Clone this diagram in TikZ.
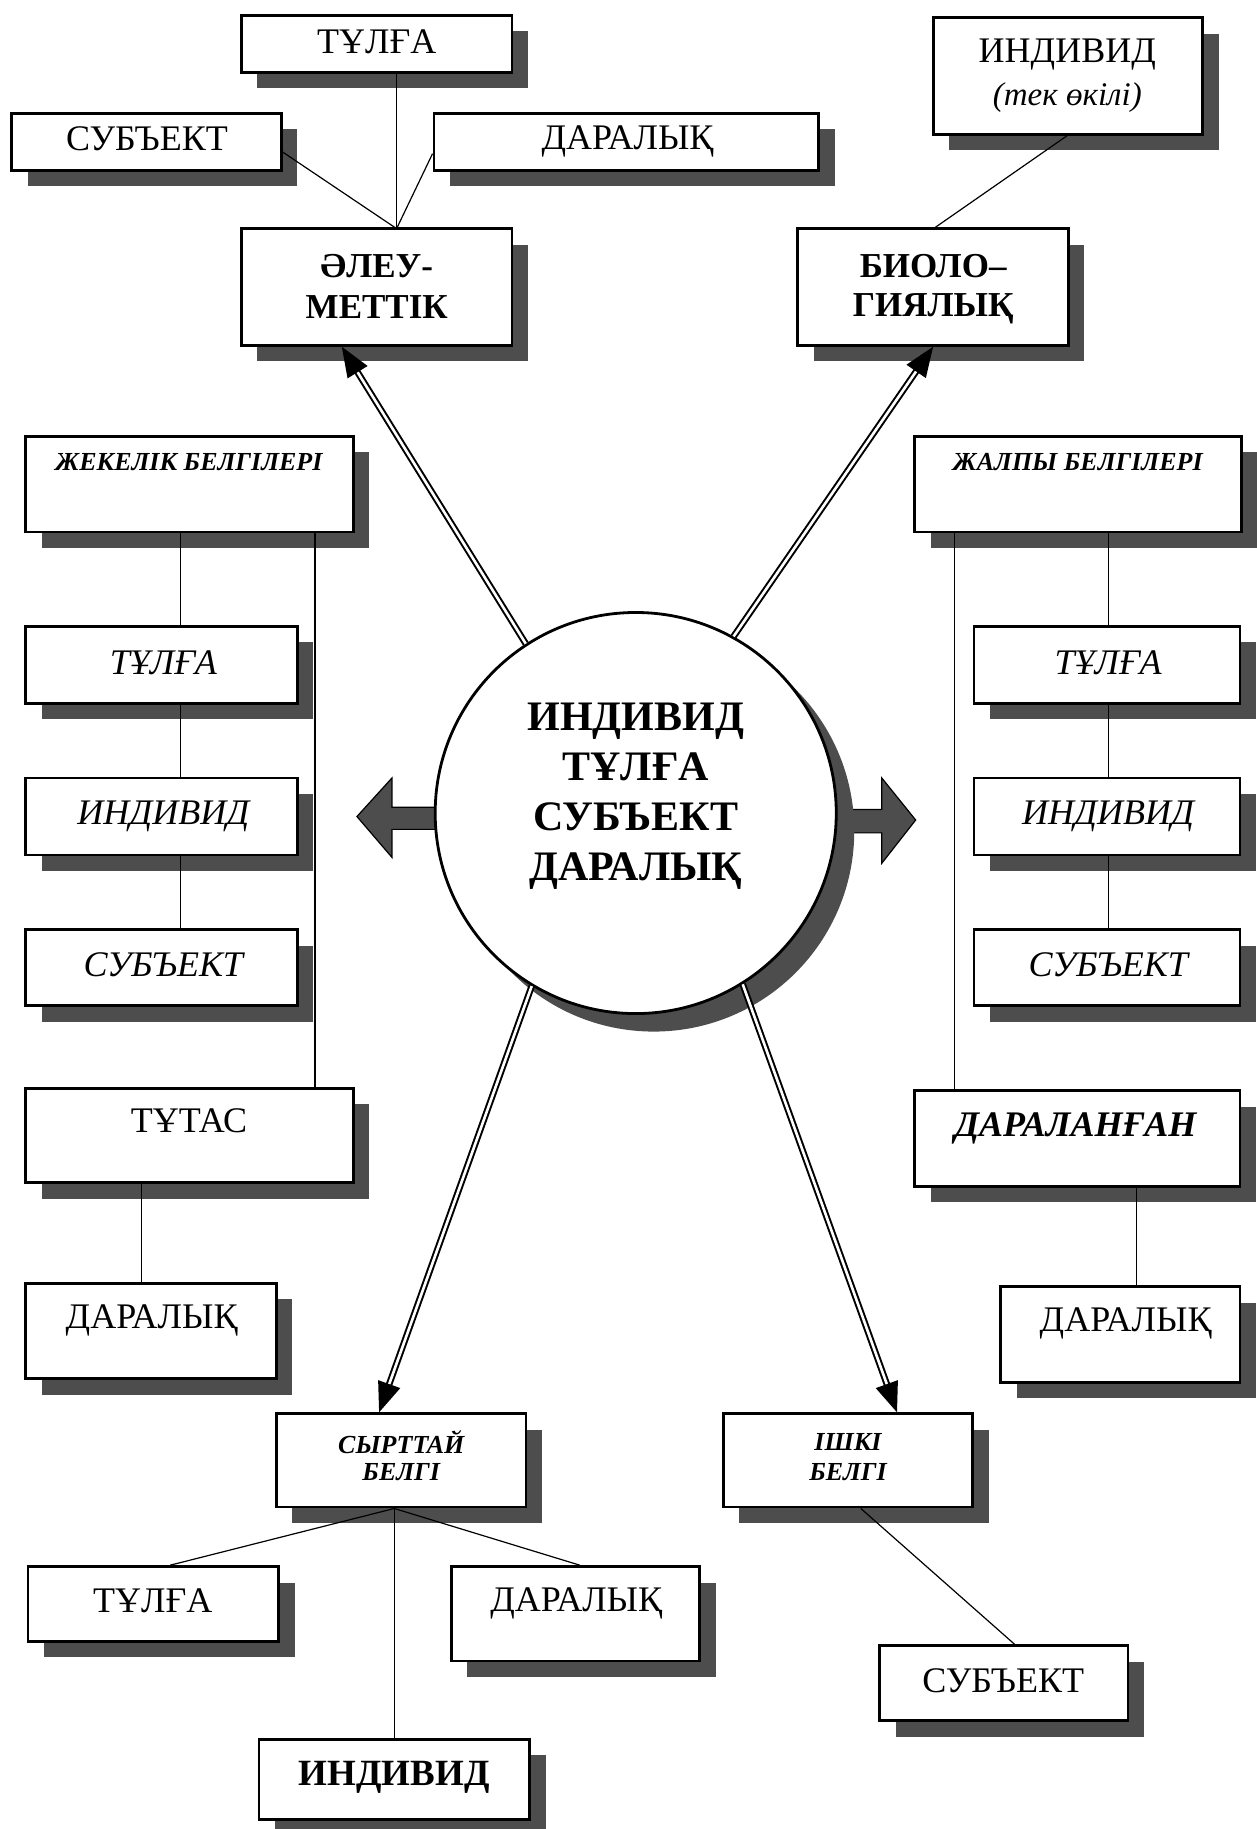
\documentclass[tikz,border=0pt]{standalone}
\usepackage{fontspec}
\setmainfont{Liberation Serif}
\usetikzlibrary{shadows,fit,calc,arrows.meta}
\definecolor{sh}{RGB}{77,77,77}
\begin{document}
\begin{tikzpicture}[x=1.1662pt,y=-1.1662pt,
  box/.style={draw, line width=2.8pt, fill=white, inner sep=0pt,
    drop shadow={shadow xshift=16pt, shadow yshift=-16pt, fill=sh, opacity=1}},
  reg/.style={font=\fontsize{36}{42}\selectfont},
  itx/.style={font=\fontsize{36}{42}\selectfont\itshape},
  bfx/.style={font=\fontsize{35}{41}\selectfont\bfseries},
  bix/.style={font=\fontsize{36}{42}\selectfont\bfseries\itshape},
  sbi/.style={font=\fontsize{26}{30}\selectfont\bfseries\itshape},
  con/.style={line width=1.2pt},
  dbl/.style={line width=2pt, double=white, double distance=2.6pt,
    -{Triangle[length=30pt,width=23pt]}},
  blk/.style={fill=sh, draw=black, line width=1.2pt, line join=miter}]
\useasboundingbox (0,0) rectangle (1077,1568);

% ---- top
\node[box, fit={(207,13) (439,62)}] (ttul) {};
\node[reg] (ttult) at (323,36) {ТҰЛҒА};
\node[box, fit={(10,97) (241,146)}] (tsub) {};
\node[reg] (tsubt) at (126,119) {СУБЪЕКТ};
\node[box, fit={(372,97) (702,146)}] (tdar) {};
\node[reg] (tdart) at (538,121) {ДАРАЛЫҚ};
\node[box, fit={(207,196) (439,296)}] (aleu) {};
\node[bfx] (aleut1) at (323,228) {ӘЛЕУ-};
\node[bfx] (aleut2) at (323,263) {МЕТТІК};
\node[box, fit={(800,15) (1031,115)}] (tind) {};
\node[reg] (tindt1) at (915,47) {ИНДИВИД};
\node[itx, font=\fontsize{33}{40}\selectfont\itshape] (tindt2) at (915,84) {(тек өкілі)};
\node[box, fit={(684,196) (916,296)}] (bio) {};
\node[bfx] (biot1) at (800,228) {БИОЛО–};
\node[bfx] (biot2) at (800,265) {ГИЯЛЫҚ};

% ---- left column
\node[box, fit={(22,374) (303,456)}] (zhek) {};
\node[sbi] (zhekt) at (162,396) {ЖЕКЕЛІК БЕЛГІЛЕРІ};
\node[box, fit={(22,537) (255,603)}] (ltul) {};
\node[itx] (ltult) at (140,568) {ТҰЛҒА};
\node[box, fit={(22,667) (255,733)}] (lind) {};
\node[itx] (lindt) at (140,700) {ИНДИВИД};
\node[box, fit={(22,797) (255,862)}] (lsub) {};
\node[itx] (lsubt) at (140,827) {СУБЪЕКТ};
\node[box, fit={(22,933) (303,1014)}] (tutas) {};
\node[reg] (tutast) at (162,961) {ТҰТАС};
\node[box, fit={(22,1100) (237,1182)}] (ldar) {};
\node[reg] (ldart) at (130,1132) {ДАРАЛЫҚ};

% ---- right column
\node[box, fit={(784,374) (1064,456)}] (zhal) {};
\node[sbi] (zhalt) at (924,396) {ЖАЛПЫ БЕЛГІЛЕРІ};
\node[box, fit={(835,537) (1063,603)}] (rtul) {};
\node[itx] (rtult) at (950,568) {ТҰЛҒА};
\node[box, fit={(835,667) (1063,733)}] (rind) {};
\node[itx] (rindt) at (950,700) {ИНДИВИД};
\node[box, fit={(835,797) (1063,862)}] (rsub) {};
\node[itx] (rsubt) at (950,827) {СУБЪЕКТ};
\node[box, fit={(784,935) (1063,1017)}] (daral) {};
\node[bix] (daralt) at (922,967) {ДАРАЛАНҒАН};
\node[box, fit={(858,1103) (1063,1185)}] (rdar) {};
\node[reg] (rdart) at (965,1135) {ДАРАЛЫҚ};

% ---- bottom
\node[box, fit={(237,1212) (451,1292)}] (syrt) {};
\node[sbi] (syrtt1) at (344,1236) {СЫРТТАЙ};
\node[sbi] (syrtt2) at (344,1262) {БЕЛГІ};
\node[box, fit={(620,1212) (834,1292)}] (ishki) {};
\node[sbi] (ishkit1) at (727,1236) {ІШКІ};
\node[sbi] (ishkit2) at (727,1262) {БЕЛГІ};
\node[box, fit={(24,1343) (239,1407)}] (btul) {};
\node[reg] (btult) at (131,1372) {ТҰЛҒА};
\node[box, fit={(387,1343) (600,1424)}] (bdar) {};
\node[reg] (bdart) at (494,1375) {ДАРАЛЫҚ};
\node[box, fit={(222,1491) (454,1560)}] (bind) {};
\node[bfx, font=\fontsize{37}{42}\selectfont\bfseries] (bindt) at (338,1524) {ИНДИВИД};
\node[box, fit={(754,1411) (967,1475)}] (bsub) {};
\node[reg] (bsubt) at (860,1441) {СУБЪЕКТ};

% ---- block arrows and centre circle
\draw[blk] (390,692) -- (336,692) -- (336,667) -- (306,700) -- (336,735) -- (336,711) -- (390,711) -- cycle;
\draw[blk] (700,694) -- (756,694) -- (756,667) -- (785,703) -- (756,740) -- (756,714) -- (700,714) -- cycle;
\node[circle, draw, line width=2.8pt, fill=white, minimum size=401pt, inner sep=0pt,
  drop shadow={shadow xshift=18pt, shadow yshift=-18pt, fill=sh, opacity=1}] (circ) at (545,697) {};
\node[font=\fontsize{42}{50}\selectfont\bfseries, align=center] (circt) at (545,683)
  {ИНДИВИД\\ТҰЛҒА\\СУБЪЕКТ\\ДАРАЛЫҚ};

% ---- helper coordinates
\coordinate (aJ) at (340,196);
\coordinate (bS) at (915,0);  \coordinate (bJ) at (802,0);
\coordinate (L1) at (155,0);  \coordinate (L2) at (270,0); \coordinate (L3) at (121,0);
\coordinate (R1) at (950,0);  \coordinate (R2) at (818,0); \coordinate (R3) at (974,0);
\coordinate (sJ) at (338,0);  \coordinate (B1) at (146,0); \coordinate (B2) at (497,0);
\coordinate (I1) at (738,0);  \coordinate (I2) at (870,0);
\coordinate (A1) at (293,0);  \coordinate (A2) at (800,0);
\coordinate (A3) at (325,0);  \coordinate (A4) at (769,0);

% ---- connectors
\draw[con] (ttul.south -| aJ) -- (aJ);
\draw[con] ($(tsub.north east)!0.67!(tsub.south east)$) -- (aJ);
\draw[con] ($(tdar.north west)!0.7!(tdar.south west)$) -- (aJ);
\draw[con] (tind.south -| bS) -- (bio.north -| bJ);

\draw[con] (zhek.south -| L1) -- (ltul.north -| L1);
\draw[con] (ltul.south -| L1) -- (lind.north -| L1);
\draw[con] (lind.south -| L1) -- (lsub.north -| L1);
\draw[con] (zhek.south -| L2) -- (tutas.north -| L2);
\draw[con] (tutas.south -| L3) -- (ldar.north -| L3);

\draw[con] (zhal.south -| R1) -- (rtul.north -| R1);
\draw[con] (rtul.south -| R1) -- (rind.north -| R1);
\draw[con] (rind.south -| R1) -- (rsub.north -| R1);
\draw[con] (zhal.south -| R2) -- (daral.north -| R2);
\draw[con] (daral.south -| R3) -- (rdar.north -| R3);

\draw[con] (syrt.south -| sJ) -- (btul.north -| B1);
\draw[con] (syrt.south -| sJ) -- (bdar.north -| B2);
\draw[con] (syrt.south -| sJ) -- (bind.north -| sJ);
\draw[con] (ishki.south -| I1) -- (bsub.north -| I2);

% ---- double arrows
\draw[dbl] (circ.123) -- (aleu.south -| A1);
\draw[dbl] (circ.61) -- (bio.south -| A2);
\draw[dbl] (circ.239) -- (syrt.north -| A3);
\draw[dbl] (circ.302) -- (ishki.north -| A4);
\end{tikzpicture}
\end{document}
